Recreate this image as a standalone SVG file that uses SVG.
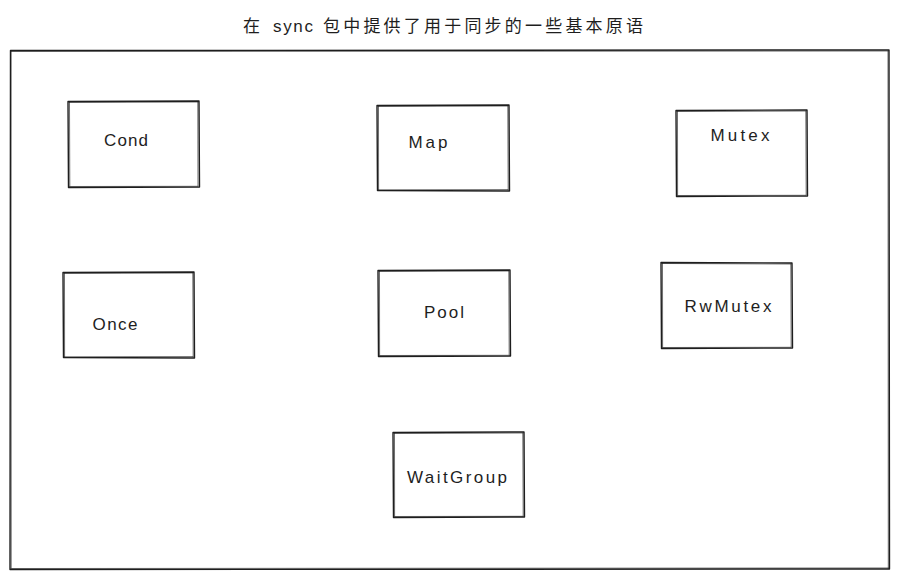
<svg xmlns="http://www.w3.org/2000/svg" width="899" height="579" viewBox="0 0 899 579">
<style>
.b{fill:none;stroke:#1e1e1e;stroke-width:1.4;stroke-linecap:round;stroke-linejoin:round}
.b2{fill:none;stroke:#1e1e1e;stroke-width:0.8;stroke-linecap:round;opacity:0.8}
.t{font-family:"Liberation Sans","Noto Sans CJK SC",sans-serif;font-size:17px;fill:#1e1e1e}
.l{font-family:"Liberation Sans",sans-serif;font-size:17px;fill:#1e1e1e;text-anchor:middle}
</style>
<rect width="899" height="579" fill="#ffffff"/>
<text class="t" x="243" y="32">在</text>
<text class="t" x="273" y="32" textLength="40" lengthAdjust="spacing">sync</text>
<text class="t" x="323" y="32" textLength="320" lengthAdjust="spacing">包中提供了用于同步的一些基本原语</text>
<g id="frame">
<path class="b" d="M10.5 50.5 L889 50 L889.5 569 L10 569.5 Z"/>
<path class="b2" d="M11 51.5 L888.5 51 M888 51 L888.3 568.5 M888.5 568 L11 568.5 M11.2 568 L11 51"/>
</g>
<g id="connectors"></g>
<g id="cond">
<path class="b" d="M68 101.5 L199 101 L199.5 187 L68.5 187.5 Z"/>
<path class="b2" d="M69 102.5 L198.5 102 M197.8 102 L198 186 M198 186.3 L69 186.5 M69.8 186 L69.5 102"/>
<text class="l" x="126" y="146" textLength="44" lengthAdjust="spacing">Cond</text>
</g>
<g id="map">
<path class="b" d="M377 105.5 L509 105 L509.5 191 L377.5 190.5 Z"/>
<path class="b2" d="M378 106.5 L508 106 M507.8 106 L508.2 190 M508 189.6 L378 189.8 M378.6 190 L378.5 106"/>
<text class="l" x="428" y="148" textLength="39" lengthAdjust="spacing">Map</text>
</g>
<g id="mutex">
<path class="b" d="M676 110.5 L807 110 L807.5 196 L676.5 196.5 Z"/>
<path class="b2" d="M677 111.5 L806 111 M805.8 111 L806.2 195 M806 195.3 L677 195.5 M677.6 195 L677.5 111"/>
<text class="l" x="740" y="141" textLength="59" lengthAdjust="spacing">Mutex</text>
</g>
<g id="once">
<path class="b" d="M63 272.5 L194 272 L194.5 358 L63.5 357.5 Z"/>
<path class="b2" d="M64 273.5 L193 273 M192.8 273 L193.2 357 M193 356.6 L64 356.8 M64.6 357 L64.5 273"/>
<text class="l" x="115" y="330" textLength="45" lengthAdjust="spacing">Once</text>
</g>
<g id="pool">
<path class="b" d="M378 270.5 L510 270 L510.5 356 L378.5 356.5 Z"/>
<path class="b2" d="M379 271.5 L509 271 M508.8 271 L509.2 355 M509 355.3 L379 355.5 M379.6 355 L379.5 271"/>
<text class="l" x="444" y="318" textLength="40" lengthAdjust="spacing">Pool</text>
</g>
<g id="rwmutex">
<path class="b" d="M661 262.5 L792 263 L792.5 348 L661.5 348.5 Z"/>
<path class="b2" d="M662 263.5 L791 264 M790.8 264 L791.2 347 M791 347.3 L662 347.5 M662.6 347 L662.5 263"/>
<text class="l" x="728" y="312" textLength="87" lengthAdjust="spacing">RwMutex</text>
</g>
<g id="waitgroup">
<path class="b" d="M393 432.5 L524 432 L524.5 517 L393.5 517.5 Z"/>
<path class="b2" d="M394 433.5 L523 433 M522.8 433 L523.2 516 M523 516.3 L394 516.5 M394.6 516 L394.5 433"/>
<text class="l" x="457" y="483" textLength="100" lengthAdjust="spacing">WaitGroup</text>
</g>
</svg>
